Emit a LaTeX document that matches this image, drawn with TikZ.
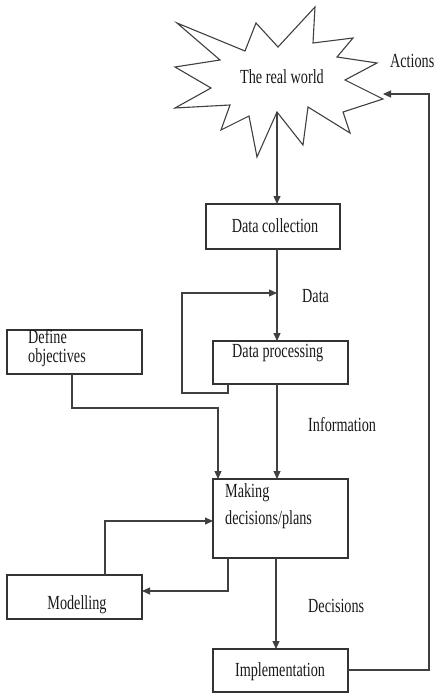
\documentclass[tikz,border=0pt]{standalone}
\usepackage{graphicx}
\usepackage{fontspec}
\setmainfont{Liberation Serif}
\usetikzlibrary{arrows.meta}
\newcommand{\sq}[1]{\scalebox{0.71}[1]{#1}}
\tikzset{
  box/.style={draw=black!80, line width=1.4pt},
  lbl/.style={font=\fontsize{20}{22}\selectfont, inner sep=0pt, text=black!90},
  conn/.style={draw=black!75, line width=1.1pt},
  arr/.style={conn, -{Triangle[length=8pt,width=7pt]}},
}
\begin{document}
\begin{tikzpicture}[x=1pt,y=-1pt]
\useasboundingbox (0,0) rectangle (435,693);
% starburst
\draw[draw=black!75, line width=1.1pt, fill=white]
 (177,23) -- (245,51) -- (256,23) -- (278,47) -- (315,7) -- (313,43) -- (353,38)
 -- (337,57) -- (377,63) -- (345,80) -- (383,99) -- (343,112) -- (350,133)
 -- (308,107) -- (303,145) -- (277,112) -- (257,157) -- (249,116) -- (221,130)
 -- (230,105) -- (175,108) -- (211,88) -- (175,67) -- (220,60) -- cycle;
\coordinate (sbot) at (277,112);
\coordinate (sright) at (383,94);
\node[lbl] (world) at (282,77) {\sq{The real world}};
\node[lbl, anchor=east] (actions) at (434.5,61) {\sq{Actions}};

% boxes
\draw[box] (206,204) rectangle (340,249);
\node[lbl] (dctext) at (275,226) {\sq{Data collection}};
\draw[box] (213,341) rectangle (348,384);
\node[lbl, anchor=west] (dptext) at (232,353) {\sq{Data processing}};
\draw[box] (7,330) rectangle (142,374);
\node[lbl, anchor=west] (def1) at (28,337) {\sq{Define}};
\node[lbl, anchor=west] (def2) at (28,358) {\sq{objectives}};
\draw[box] (213,479) rectangle (348,558);
\node[lbl, anchor=west] (mk1) at (225,493) {\sq{Making}};
\node[lbl, anchor=west] (mk2) at (225,520) {\sq{decisions/plans}};
\draw[box] (7,575) rectangle (142,619);
\node[lbl] (mod) at (77,605) {\sq{Modelling}};
\draw[box] (213,649) rectangle (348,692);
\node[lbl] (imp) at (280,672) {\sq{Implementation}};

% labels
\node[lbl, anchor=west] (ldata) at (302,296) {\sq{Data}};
\node[lbl, anchor=west] (linfo) at (308,425) {\sq{Information}};
\node[lbl, anchor=west] (ldec) at (308,606) {\sq{Decisions}};

% named coordinates for connectors
\coordinate (dcT) at (277,204); \coordinate (dcB) at (277,249);
\coordinate (dpT) at (277,341); \coordinate (dpB) at (277,384);
\coordinate (mkT) at (277,479); \coordinate (mkB) at (276,558);
\coordinate (imT) at (276,649);
\coordinate (loopS) at (228,384); \coordinate (loopE) at (277,293);
\coordinate (defB) at (72,374); \coordinate (mkT2) at (218,479);
\coordinate (mkB2) at (228,558); \coordinate (modR) at (142,591);
\coordinate (modT) at (105,575); \coordinate (mkL) at (213,521);
\coordinate (imR) at (348,670);

% connectors
\draw[arr] (sbot) -- (dcT);
\draw[arr] (dcB) -- (dpT);
\draw[arr] (dpB) -- (mkT);
\draw[arr] (mkB) -- (imT);
\draw[arr] (loopS) -- (228,393) -- (182,393) -- (182,293) -- (loopE);
\draw[arr] (defB) -- (72,408) -- (218,408) -- (mkT2);
\draw[arr] (mkB2) -- (228,591) -- (modR);
\draw[arr] (modT) -- (105,521) -- (mkL);
\draw[arr] (imR) -- (429,670) -- (429,94) -- (sright);
\end{tikzpicture}
\end{document}
